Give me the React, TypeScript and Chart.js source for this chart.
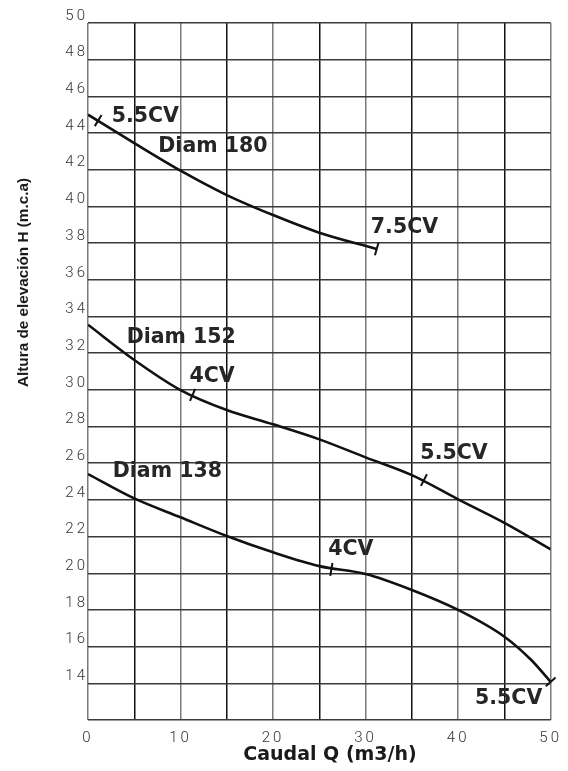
import React, { useEffect, useRef } from 'react';
import { Chart, registerables } from 'chart.js';

Chart.register(...registerables);

// Curve data: flow Q (m3/h) and head H (m.c.a)
const flow180 = [0, 5, 10, 15, 20, 25, 31.2];
const head180 = [45.0, 43.45, 41.95, 40.62, 39.53, 38.57, 37.68];
const flow152 = [0, 5, 10, 15, 20, 25, 30, 35, 40, 45, 50];
const head152 = [33.55, 31.63, 29.99, 28.9, 28.12, 27.3, 26.32, 25.35, 24.03, 22.75, 21.3];
const flow138 = [0, 5, 10, 15, 20, 25, 30, 35, 40, 45, 47.9, 50];
const head138 = [25.41, 24.08, 23.05, 22.03, 21.14, 20.39, 19.96, 19.09, 18.0, 16.54, 15.27, 14.08];

// Power markers on each curve
const markerFlow180 = [1.1, 31.2];
const markerHead180 = [44.68, 37.68];
const markerFlow152 = [11.3, 36.3];
const markerHead152 = [29.72, 25.08];
const markerFlow138 = [26.3, 50];
const markerHead138 = [20.21, 14.08];

// Text annotations (anchored in data coordinates)
const noteTexts = ['5.5CV', 'Diam 180', '7.5CV', 'Diam 152', '4CV', '5.5CV', 'Diam 138', '4CV', '5.5CV'];
const noteFlow = [6.19, 13.5, 34.2, 10.08, 13.4, 39.55, 8.58, 28.4, 45.46];
const noteHead = [44.91, 43.24, 38.82, 32.82, 30.73, 26.5, 25.55, 21.28, 13.14];

const xLabelValues = [0, 10, 20, 30, 40, 50];
const yHiddenLabels = [12];

const xTitle = 'Caudal Q (m3/h)';
const yTitle = 'Altura de elevación H (m.c.a)';

const toPoints = (xs: number[], ys: number[]) => xs.map((x, i) => ({ x, y: ys[i] }));

const markerSets = [
  toPoints(markerFlow180, markerHead180),
  toPoints(markerFlow152, markerHead152),
  toPoints(markerFlow138, markerHead138),
];

const overlayPlugin = {
  id: 'overlay',
  beforeDraw(chart: any) {
    chart.ctx.letterSpacing = '3px';
  },
  afterDatasetsDraw(chart: any) {
    const ctx = chart.ctx;
    const xs = chart.scales.x;
    const ys = chart.scales.y;
    ctx.save();
    ctx.letterSpacing = '0px';
    // markers
    ctx.strokeStyle = '#111';
    ctx.lineWidth = 2;
    chart.data.datasets.forEach((ds: any, di: number) => {
      const pts = ds.data as { x: number; y: number }[];
      markerSets[di].forEach((m) => {
        let k = 0;
        while (k < pts.length - 2 && pts[k + 1].x < m.x) k++;
        const ax = xs.getPixelForValue(pts[k].x);
        const ay = ys.getPixelForValue(pts[k].y);
        const bx = xs.getPixelForValue(pts[k + 1].x);
        const by = ys.getPixelForValue(pts[k + 1].y);
        const dx = bx - ax;
        const dy = by - ay;
        const len = Math.hypot(dx, dy) || 1;
        const nx = -dy / len;
        const ny = dx / len;
        const px = xs.getPixelForValue(m.x);
        const py = ys.getPixelForValue(m.y);
        const h = 6.5;
        ctx.beginPath();
        ctx.moveTo(px - nx * h, py - ny * h);
        ctx.lineTo(px + nx * h, py + ny * h);
        ctx.stroke();
      });
    });
    // annotations
    ctx.fillStyle = '#262626';
    ctx.font = 'bold 20.5px "DejaVu Sans", Verdana, sans-serif';
    ctx.textAlign = 'center';
    ctx.textBaseline = 'middle';
    noteTexts.forEach((t, i) => {
      ctx.fillText(t, xs.getPixelForValue(noteFlow[i]), ys.getPixelForValue(noteHead[i]));
    });
    // axis titles
    ctx.fillStyle = '#1a1a1a';
    ctx.font = 'bold 19px "DejaVu Sans", Verdana, sans-serif';
    ctx.fillText(xTitle, 330, 755);
    ctx.save();
    ctx.translate(24, 282.5);
    ctx.rotate(-Math.PI / 2);
    ctx.font = 'bold 15.3px "Liberation Sans", Arial, sans-serif';
    ctx.fillText(yTitle, 0, 0);
    ctx.restore();
    ctx.restore();
  },
};

export default function App() {
  const canvasRef = useRef<HTMLCanvasElement | null>(null);

  useEffect(() => {
    const canvas = canvasRef.current;
    if (!canvas) return;
    const lineStyle = {
      borderColor: '#111',
      borderWidth: 2.6,
      pointRadius: 0,
      fill: false,
      cubicInterpolationMode: 'monotone' as const,
    };
    const chart = new Chart(canvas, {
      type: 'line',
      data: {
        datasets: [
          { label: 'Diam 180', data: toPoints(flow180, head180), ...lineStyle },
          { label: 'Diam 152', data: toPoints(flow152, head152), ...lineStyle },
          { label: 'Diam 138', data: toPoints(flow138, head138), ...lineStyle },
        ],
      },
      options: {
        animation: false,
        responsive: false,
        maintainAspectRatio: false,
        layout: { padding: { top: 23, right: 15, left: 0, bottom: 0 } },
        plugins: { legend: { display: false }, tooltip: { enabled: false } },
        scales: {
          x: {
            type: 'linear',
            min: 0,
            max: 50,
            border: { display: false },
            afterFit: (s: any) => {
              s.height = 51;
            },
            grid: {
              drawTicks: false,
              lineWidth: 1.5,
              color: (c: any) => (c.tick && c.tick.value % 10 === 0 ? '#7a7a7a' : '#111'),
            },
            ticks: {
              stepSize: 5,
              padding: 9,
              maxRotation: 0,
              autoSkip: false,
              color: '#333',
              font: { family: 'Roboto', size: 15, weight: 300 },
              callback: (v: any) => (xLabelValues.includes(Number(v)) ? String(v) : ''),
            },
          },
          y: {
            type: 'linear',
            min: 12,
            max: 50,
            border: { display: false },
            afterFit: (s: any) => {
              s.width = 88;
            },
            grid: {
              drawTicks: false,
              lineWidth: 1.5,
              color: '#3a3a3a',
            },
            ticks: {
              stepSize: 2,
              padding: 0,
              labelOffset: -7,
              autoSkip: false,
              color: '#333',
              font: { family: 'Roboto', size: 15, weight: 300 },
              callback: (v: any) => (yHiddenLabels.includes(Number(v)) ? '' : String(v)),
            },
          },
        },
      },
      plugins: [overlayPlugin],
    });
    return () => chart.destroy();
  }, []);

  return (
    <div style={{ position: 'absolute', left: 0, top: 0, width: 568, height: 771, background: '#fff' }}>
      <canvas ref={canvasRef} width={568} height={771} style={{ width: 568, height: 771, display: 'block' }} />
    </div>
  );
}
